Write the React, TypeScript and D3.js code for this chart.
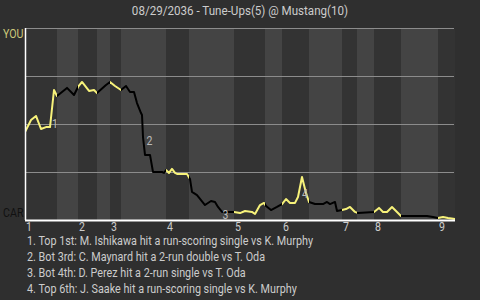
import React from "react";
import * as d3 from "d3";

const title = "08/29/2036 - Tune-Ups(5) @ Mustang(10)";
const awayLabel = "YOU";
const homeLabel = "CAR";
const inningLabels = ["1", "2", "3", "4", "5", "6", "7", "8", "9"];
// start of each half-inning on the game-progress axis (top, bottom, top, ...)
const halfStarts = [0, 6.4, 10.6, 14.4, 17, 19.2, 28.2, 32.8, 41.8, 48, 51.4, 56.8, 63.4, 66.4, 69.8, 75.2, 82.6];
const gameEnd = 86;
// win probability for the away team (%) through the game
const eventX = [
  0, 1.2, 2.2, 3.2, 4.2, 5.0, 5.8, 6.4,
  8.4, 9.8, 10.6,
  11.4, 12.8, 13.8, 14.4,
  16.2, 17.0,
  18.0, 19.2,
  20.2, 21.0, 21.8, 22.4, 23.2, 23.4, 23.6, 24.0, 25.0, 25.6, 27.4, 27.8, 28.2,
  28.8, 29.4, 30.0, 30.4, 32.4, 33.0,
  33.4, 34.4, 36.0, 37.2, 38.0, 38.6, 39.4, 41.8,
  43.0, 44.0, 45.4, 46.0, 47.0, 47.8,
  48.2, 49.2, 50.4, 51.4,
  52.2, 53.0, 54.0, 54.6, 55.4, 56.2, 56.8,
  58.0, 59.6, 60.4, 61.0, 62.0, 62.4, 63.4,
  64.2, 65.0, 66.0,
  66.6, 69.8,
  70.8, 71.6, 72.4, 73.4, 74.4, 75.2,
  80.4, 81.6, 82.6,
  83.6, 84.6, 86.0,
];
const youWinPct = [
  45.8, 52.1, 54.2, 47.4, 48.4, 48.4, 67.7, 64.6,
  68.8, 65.1, 69.3,
  71.9, 67.2, 67.7, 66.1,
  70.3, 71.9,
  69.8, 67.7,
  69.8, 66.7, 66.7, 60.9, 55.7, 54.7, 43.2, 33.9, 33.9, 25.0, 25.0, 24.5, 26.0,
  24.5, 26.6, 24.5, 24.0, 24.0, 21.4,
  14.6, 13.0, 7.8, 9.9, 9.4, 6.8, 4.2, 4.2,
  3.6, 4.7, 4.2, 3.1, 7.8, 8.9,
  7.3, 5.2, 6.8, 8.3,
  10.9, 8.9, 8.9, 12.0, 22.4, 14.1, 9.4,
  8.3, 8.3, 9.4, 8.3, 9.4, 4.7, 5.2,
  5.7, 6.8, 4.2,
  3.6, 4.2,
  6.3, 4.2, 4.2, 6.8, 4.2, 2.1,
  2.1, 1.6, 1.0,
  1.6, 1.0, 0.5,
];
const gridPct = [25, 50, 75, 100];
const noteX = [6.0, 24.9, 40.1, 56.0];
const notePct = [50.0, 41.1, 2.6, 13.5];
const noteLines = [
  "1. Top 1st: M. Ishikawa hit a run-scoring single vs K. Murphy",
  "2. Bot 3rd: C. Maynard hit a 2-run double vs T. Oda",
  "3. Bot 4th: D. Perez hit a 2-run single vs T. Oda",
  "4. Top 6th: J. Saake hit a run-scoring single vs K. Murphy",
];

const W = 480;
const H = 300;
const M = { left: 25, right: 455, top: 28, bottom: 220 };
const FONT = "Roboto, 'Noto Sans', sans-serif";
const SX = 0.88;

const BG = "#2f2f2f";
const DARK = "#333333";
const LIGHT = "#444444";
const YELLOW = "#f7f27a";
const TEXT = "#cccccc";

export default function App() {
  const x = d3.scaleLinear().domain([0, gameEnd]).range([M.left, M.right]);
  const y = d3.scaleLinear().domain([0, 100]).range([M.bottom, M.top]);
  const pts: [number, number][] = eventX.map((v, i) => [v, youWinPct[i]]);
  const line = d3
    .line<[number, number]>()
    .x((d) => x(d[0]))
    .y((d) => y(d[1]));
  const path = line(pts) || "";

  const halves = halfStarts.map((s, i) => ({
    s,
    e: i + 1 < halfStarts.length ? halfStarts[i + 1] : gameEnd,
    top: i % 2 === 0,
  }));
  const inningStarts = halfStarts.filter((_, i) => i % 2 === 0);

  const cond = (tx: number, ty: number, sx = SX) => `translate(${tx},${ty}) scale(${sx},1)`;

  return (
    <svg
      width={W}
      height={H}
      style={{ position: "absolute", left: 0, top: 0, background: BG }}
      fontFamily={FONT}
    >
      <rect x={0} y={0} width={W} height={H} fill={BG} />
      <defs>
        <clipPath id="clipTop">
          {halves.filter((h) => h.top).map((h, i) => (
            <rect key={i} x={x(h.s)} y={0} width={x(h.e) - x(h.s)} height={H} />
          ))}
        </clipPath>
        <clipPath id="clipBot">
          {halves.filter((h) => !h.top).map((h, i) => (
            <rect key={i} x={x(h.s)} y={0} width={x(h.e) - x(h.s)} height={H} />
          ))}
        </clipPath>
      </defs>
      <text transform={cond(W / 2, 15, 0.86)} textAnchor="middle" fontSize={13.5} fill={TEXT}>
        {title}
      </text>
      {halves.map((h, i) => (
        <rect
          key={i}
          x={x(h.s)}
          y={y(100) + 1}
          width={x(h.e) - x(h.s)}
          height={y(0) - y(100) - 1}
          fill={h.top ? DARK : LIGHT}
        />
      ))}
      {gridPct.map((g) => (
        <line
          key={g}
          x1={M.left}
          x2={M.right - 1}
          y1={y(g) + 0.5}
          y2={y(g) + 0.5}
          stroke="#8c8c8c"
          strokeWidth={1}
        />
      ))}
      <path d={path} fill="none" stroke={YELLOW} strokeWidth={2} strokeLinejoin="round" clipPath="url(#clipTop)" />
      <path d={path} fill="none" stroke="#000" strokeWidth={2} strokeLinejoin="round" clipPath="url(#clipBot)" />
      <line x1={M.left + 0.5} x2={M.left + 0.5} y1={M.top} y2={M.bottom} stroke="#fff" strokeWidth={1.5} />
      <line x1={M.left} x2={M.right} y1={M.bottom + 0.5} y2={M.bottom + 0.5} stroke="#fff" strokeWidth={2} />
      {noteX.map((v, i) => (
        <text
          key={i}
          transform={cond(x(v), y(notePct[i]))}
          textAnchor="middle"
          dominantBaseline="central"
          fontSize={12}
          fill="#bbbbbb"
        >
          {i + 1}
        </text>
      ))}
      <text transform={cond(3, 38, 0.82)} fontSize={13} fill="#cdc97a">
        {awayLabel}
      </text>
      <text transform={cond(3, 217, 0.82)} fontSize={13} fill="#111111">
        {homeLabel}
      </text>
      {inningStarts.map((s, i) => (
        <text key={i} transform={cond(x(s) + 1, 231)} fontSize={12} fill={TEXT}>
          {inningLabels[i]}
        </text>
      ))}
      {noteLines.map((t, i) => (
        <text key={i} transform={cond(27, 245 + i * 16, 0.9)} fontSize={12} fill={TEXT}>
          {t}
        </text>
      ))}
    </svg>
  );
}
